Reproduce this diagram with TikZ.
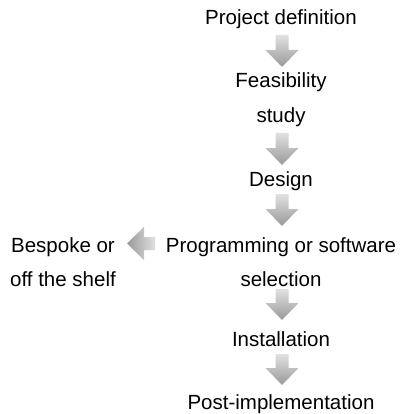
\documentclass[tikz,border=0pt]{standalone}
\usepackage{fontspec}
\setmainfont{Liberation Sans}
\usetikzlibrary{calc}

\tikzset{
  label text/.style={inner sep=0pt, anchor=base, align=center,
    font=\fontsize{20.5pt}{34.5pt}\selectfont},
  arrow down/.style={top color=black!12, bottom color=black!40, draw=none},
  arrow left/.style={left color=black!40, right color=black!12, draw=none},
}

% block arrow pointing down from #1 (top of shaft) to #2 (tip)
\newcommand\blockdown[2]{%
  \shade[arrow down]
    ($(#1)+(-6.5,0)$) -- ($(#2)+(-6.5,-17)$) -- ($(#2)+(-16.5,-17)$) --
    (#2) -- ($(#2)+(16.5,-17)$) -- ($(#2)+(6.5,-17)$) -- ($(#1)+(6.5,0)$) -- cycle;}
% block arrow pointing left from #1 (end of shaft) to #2 (tip)
\newcommand\blockleft[2]{%
  \shade[arrow left]
    ($(#1)+(0,-6.5)$) -- ($(#2)+(17,-6.5)$) -- ($(#2)+(17,-16.5)$) --
    (#2) -- ($(#2)+(17,16.5)$) -- ($(#2)+(17,6.5)$) -- ($(#1)+(0,6.5)$) -- cycle;}

\begin{document}
\begin{tikzpicture}[x=1pt, y=-1pt]
  \useasboundingbox (0,0) rectangle (401,414);

  % stages (multi-line labels sit on the baseline of their last line)
  \node[label text] (def)  at (281,24.5)  {Project definition};
  \node[label text] (feas) at (281,122.5) {Feasibility\\study};
  \node[label text] (des)  at (281,186)   {Design};
  \node[label text] (prog) at (281,286.5) {Programming or software\\selection};
  \node[label text] (bes)  at (63,286.5)  {Bespoke or\\off the shelf};
  \node[label text] (inst) at (281,346)   {Installation};
  \node[label text] (post) at (281,409.5) {Post-implementation};

  % arrow end points
  \coordinate (a1s) at (282,35);  \coordinate (a1e) at (282,67);
  \coordinate (a2s) at (282,133); \coordinate (a2e) at (282,165);
  \coordinate (a3s) at (282,194); \coordinate (a3e) at (282,226);
  \coordinate (a4s) at (282,289); \coordinate (a4e) at (282,320);
  \coordinate (a5s) at (282,354); \coordinate (a5e) at (282,385);
  \coordinate (bls) at (155,243.5); \coordinate (ble) at (127,243.5);

  \blockdown{a1s}{a1e}
  \blockdown{a2s}{a2e}
  \blockdown{a3s}{a3e}
  \blockdown{a4s}{a4e}
  \blockdown{a5s}{a5e}
  \blockleft{bls}{ble}
\end{tikzpicture}
\end{document}
